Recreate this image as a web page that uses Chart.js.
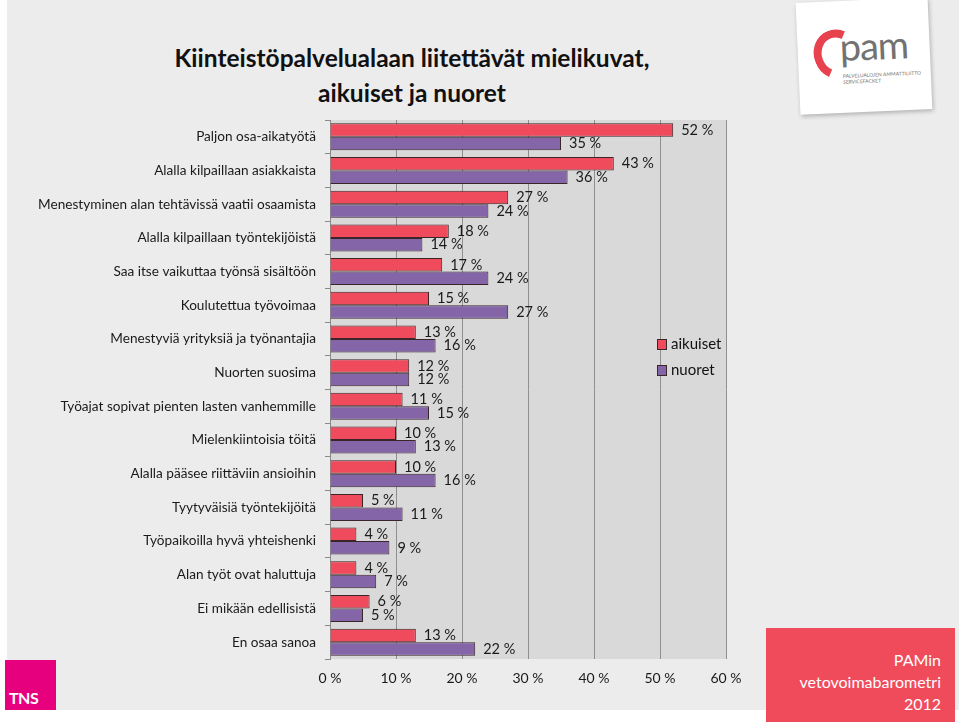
<!DOCTYPE html>
<html lang="fi">
<head>
<meta charset="UTF-8">
<title>Kiinteistöpalvelualaan liitettävät mielikuvat</title>
<script src="https://cdn.jsdelivr.net/npm/chart.js"></script>
<style>
  html, body { margin: 0; padding: 0; }
  body { width: 959px; height: 727px; position: relative; overflow: hidden; background: #fff; font-family: Lato, "Open Sans", sans-serif; }
  .paper { position: absolute; left: 7px; top: 0; width: 952px; height: 710px; background: #ececec; }
  #chart { position: absolute; left: 0; top: 0; }
  .title { position: absolute; left: 62px; width: 700px; top: 40px; text-align: center; font-weight: bold; font-size: 24.5px; line-height: 35px; color: #111; }
  .tns { position: absolute; left: 5px; top: 660px; width: 51px; height: 50px; background: #e6007e; }
  .tns span { position: absolute; left: 4px; bottom: 3px; color: #fff; font-weight: bold; font-size: 16px; letter-spacing: -0.5px; }
  .pamin { position: absolute; left: 766px; top: 628px; width: 189px; height: 94px; background: #ef4b5b; color: #fff; text-align: right; font-size: 16px; line-height: 22px; box-sizing: border-box; padding: 21px 14px 0 0; }
  .card { position: absolute; left: 798px; top: 0px; width: 132px; height: 112px; background: #fff; transform: rotate(-2.5deg); box-shadow: 1px 2px 4px rgba(0,0,0,0.25); }
  .arc { position: absolute; left: 16px; top: 28px; width: 30px; height: 34px; border: 8px solid #e8424f; border-right-color: transparent; border-bottom-color: transparent; border-radius: 50%; transform: rotate(-20deg); }
  .pam { position: absolute; left: 42px; top: 22px; font-size: 38px; font-weight: normal; color: #727272; letter-spacing: -1px; }
  .pamsub { position: absolute; left: 44px; top: 72px; font-size: 5px; color: #777; line-height: 6px; }
</style>
</head>
<body>
<div class="paper"></div>
<div class="card"><div class="arc"></div><div class="pam">pam</div><div class="pamsub">PALVELUALOJEN AMMATTILIITTO<br>SERVICEFACKET</div></div>
<div class="title">Kiinteistöpalvelualaan liitettävät mielikuvat,<br>aikuiset ja nuoret</div>
<canvas id="chart" width="959" height="727"></canvas>
<div class="tns"><span>TNS</span></div>
<div class="pamin">PAMin<br>vetovoimabarometri<br>2012</div>

<script>
// luokat ja arvot (%)
const categories = [
  'Paljon osa-aikatyötä',
  'Alalla kilpaillaan asiakkaista',
  'Menestyminen alan tehtävissä vaatii osaamista',
  'Alalla kilpaillaan työntekijöistä',
  'Saa itse vaikuttaa työnsä sisältöön',
  'Koulutettua työvoimaa',
  'Menestyviä yrityksiä ja työnantajia',
  'Nuorten suosima',
  'Työajat sopivat pienten lasten vanhemmille',
  'Mielenkiintoisia töitä',
  'Alalla pääsee riittäviin ansioihin',
  'Tyytyväisiä työntekijöitä',
  'Työpaikoilla hyvä yhteishenki',
  'Alan työt ovat haluttuja',
  'Ei mikään edellisistä',
  'En osaa sanoa'
];
const aikuiset = [52, 43, 27, 18, 17, 15, 13, 12, 11, 10, 10, 5, 4, 4, 6, 13];
const nuoret   = [35, 36, 24, 14, 24, 27, 16, 12, 15, 13, 16, 11, 9, 7, 5, 22];
const seriesNames = ['aikuiset', 'nuoret'];
const xTicks = [0, 10, 20, 30, 40, 50, 60];

const RED = '#f04b5c';
const PURPLE = '#8466a8';
const EDGE = '#3a2628';
const FONT = 'Lato, "Open Sans", sans-serif';

// harmaa tausta piirtoalueelle
const plotBg = {
  id: 'plotBg',
  beforeDraw(chart) {
    const a = chart.chartArea, ctx = chart.ctx;
    ctx.save();
    ctx.fillStyle = '#d9d9d9';
    ctx.fillRect(a.left, a.top, a.right - a.left, a.bottom - a.top);
    ctx.restore();
  }
};

// arvot palkkien perään
const valueLabels = {
  id: 'valueLabels',
  afterDatasetsDraw(chart) {
    const ctx = chart.ctx;
    ctx.save();
    ctx.font = '14.5px ' + FONT;
    ctx.fillStyle = '#1a1a1a';
    ctx.textBaseline = 'middle';
    ctx.textAlign = 'left';
    chart.data.datasets.forEach((ds, i) => {
      chart.getDatasetMeta(i).data.forEach((bar, j) => {
        ctx.fillText(ds.data[j] + ' %', bar.x + 8, bar.y);
      });
    });
    ctx.restore();
  }
};

// selite oikealle
const legendBox = {
  id: 'legendBox',
  afterDraw(chart) {
    const ctx = chart.ctx;
    ctx.save();
    ctx.font = '15px ' + FONT;
    ctx.textBaseline = 'middle';
    chart.data.datasets.forEach((ds, i) => {
      const y = 344 + i * 26;
      ctx.fillStyle = ds.backgroundColor;
      ctx.fillRect(657, y - 5, 9, 10);
      ctx.strokeStyle = EDGE;
      ctx.lineWidth = 1;
      ctx.strokeRect(657.5, y - 4.5, 9, 10);
      ctx.fillStyle = '#111';
      ctx.fillText(ds.label, 671, y);
    });
    ctx.restore();
  }
};

new Chart(document.getElementById('chart'), {
  type: 'bar',
  data: {
    labels: categories,
    datasets: [
      { label: seriesNames[0], data: aikuiset, backgroundColor: RED, borderColor: EDGE, borderWidth: 1 },
      { label: seriesNames[1], data: nuoret, backgroundColor: PURPLE, borderColor: EDGE, borderWidth: 1 }
    ]
  },
  options: {
    indexAxis: 'y',
    responsive: false,
    animation: false,
    layout: { padding: { left: 0, top: 120, right: 233, bottom: 0 } },
    datasets: { bar: { categoryPercentage: 0.8, barPercentage: 1.0 } },
    plugins: { legend: { display: false }, tooltip: { enabled: false }, title: { display: false } },
    scales: {
      x: {
        min: 0, max: 60,
        afterBuildTicks(scale) { scale.ticks = xTicks.map(v => ({ value: v })); },
        afterFit(scale) { scale.height = 68; },
        grid: { color: '#8f8f8f', lineWidth: 1, drawTicks: false },
        border: { display: false },
        ticks: { padding: 11, color: '#1a1a1a', font: { family: FONT, size: 14 }, callback: v => v + ' %' }
      },
      y: {
        afterFit(scale) { scale.width = 330; },
        grid: { offset: true, drawOnChartArea: false, tickLength: 5, color: '#8a8a8a' },
        border: { display: true, color: '#8a8a8a' },
        ticks: { padding: 9, color: '#1a1a1a', font: { family: FONT, size: 13.6 }, autoSkip: false }
      }
    }
  },
  plugins: [plotBg, valueLabels, legendBox]
});
</script>
</body>
</html>
